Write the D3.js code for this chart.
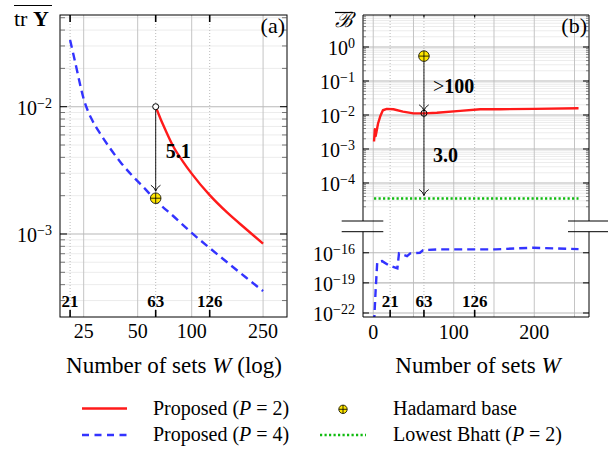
<!DOCTYPE html>
<html><head><meta charset="utf-8">
<script src="https://cdn.jsdelivr.net/npm/d3@7"></script>
<style>
body{margin:0;background:#fff}
svg{display:block}
text{font-family:"Liberation Serif",serif;fill:#000}
</style>
</head><body><svg id="c" width="608" height="453"></svg>
<script>
// ---------------- data ----------------
const wA_P2 = [63, 65, 67, 69, 71, 79, 89, 100, 126, 158, 200, 250];
const trY_P2 = [0.0100, 0.00895, 0.00805, 0.00731, 0.00668, 0.00487, 0.00374, 0.00298, 0.00202, 0.00147, 0.00110, 0.00084];
const wA_P4 = [21, 22, 23, 24, 25, 26.5, 28, 31, 35, 40, 46, 55, 63, 80, 100, 126, 160, 200, 250];
const trY_P4 = [0.0334, 0.0251, 0.0190, 0.0145, 0.0115, 0.00912, 0.00776, 0.00610, 0.00473, 0.00368, 0.00293, 0.00226, 0.00184, 0.00136, 0.00102, 0.000776, 0.000589, 0.000457, 0.000356];
const hadamardW = 63;
const hadamardTrY = 0.00191;
const hadamardB = 0.54;
const wB_P2 = [1, 2, 3, 4, 6, 9, 12, 17, 25, 37, 50, 63, 79, 108, 133, 158, 200, 255];
const bhatt_P2 = [0.00166, 0.0038, 0.0024, 0.00316, 0.00562, 0.00955, 0.0138, 0.0151, 0.0148, 0.0126, 0.0112, 0.0112, 0.0117, 0.0132, 0.0148, 0.0148, 0.0151, 0.0158];
const wB_P4 = [1, 3, 5, 11, 19, 30, 32, 42, 46, 58, 62, 81, 102, 152, 178, 199, 255];
const bhatt_P4 = [1e-23, 1.86e-20, 1.26e-17, 1.48e-17, 5.9e-18, 2.75e-18, 8.7e-17, 4.7e-17, 8.7e-17, 1.0e-16, 1.86e-16, 2.19e-16, 2.19e-16, 2.19e-16, 2.75e-16, 3.16e-16, 2.34e-16];
const lowestW = [1, 255];
const lowestBhatt = [3.5e-5, 3.5e-5];
const ratioA = "5.1", ratioB1 = "100", ratioB2 = "3.0";
const xTicksA = [25, 50, 100, 250];
const xTicksB = [0, 100, 200];
const gridB = [0, 50, 100, 150, 200, 250];
const extraTicks = [21, 63, 126];
const yExpA = [-2, -3];
const yExpBUp = [0, -1, -2, -3, -4];
const yExpBLow = [-16, -19, -22];
const legendItems = ["Proposed (P = 2)", "Proposed (P = 4)", "Hadamard base", "Lowest Bhatt (P = 2)"];

// ---------------- setup ----------------
const svg = d3.select("#c");
const RED = "#ff1a1a", BLUE = "#3333ff", GREEN = "#11bb11", YEL = "#ffe600";
const GRIDMAJ = "#c4c4c4", GRIDMIN = "#ececec";

// panel a geometry
const A = {l: 60, r: 287, t: 15, b: 317};
const xA = d3.scaleLog().domain([18.45, 339.8]).range([A.l, A.r]);
const yA = d3.scaleLog().domain([0.05253, 2.228e-4]).range([A.t, A.b]);
// panel b geometry
const B = {l: 363, r: 589, t: 15, b: 317, brk1: 221, brk2: 231.7};
const xB = d3.scaleLinear().domain([-12.7, 268]).range([B.l, B.r]);
const yB1 = d3.scaleLog().domain([8.74, Math.pow(10, -5.265)]).range([B.t, 226]);
const yB2 = d3.scaleLog().domain([Math.pow(10, -13.33), Math.pow(10, -22.4)]).range([226, B.b]);

const defs = svg.append("defs");
defs.append("clipPath").attr("id", "clipA").append("rect")
  .attr("x", A.l).attr("y", A.t).attr("width", A.r - A.l).attr("height", A.b - A.t);
defs.append("clipPath").attr("id", "clipB1").append("rect")
  .attr("x", B.l).attr("y", B.t).attr("width", B.r - B.l).attr("height", B.brk1 - B.t);
defs.append("clipPath").attr("id", "clipB2").append("rect")
  .attr("x", B.l).attr("y", B.brk2).attr("width", B.r - B.l).attr("height", B.b - B.brk2);

function minorVals(lo, hi) {
  const out = [];
  for (let e = lo; e <= hi; e++) for (let m = 2; m <= 9; m++) out.push(m * Math.pow(10, e));
  return out;
}
function hline(g, x1, x2, y, col, w, dash) {
  const l = g.append("line").attr("x1", x1).attr("x2", x2).attr("y1", y).attr("y2", y)
    .attr("stroke", col).attr("stroke-width", w);
  if (dash) l.attr("stroke-dasharray", dash);
  return l;
}
function vline(g, x, y1, y2, col, w, dash) {
  const l = g.append("line").attr("x1", x).attr("x2", x).attr("y1", y1).attr("y2", y2)
    .attr("stroke", col).attr("stroke-width", w);
  if (dash) l.attr("stroke-dasharray", dash);
  return l;
}
function hadamard(g, x, y, r) {
  g.append("circle").attr("cx", x).attr("cy", y).attr("r", r).attr("fill", YEL)
    .attr("stroke", "#000").attr("stroke-width", 0.8);
  hline(g, x - r, x + r, y, "#000", 0.8);
  vline(g, x, y - r, y + r, "#000", 0.8);
}
function arrowDown(g, x, y) {
  g.append("path").attr("d", `M${x - 4.8},${y - 6} Q${x - 1},${y - 3.8} ${x},${y} Q${x + 1},${y - 3.8} ${x + 4.8},${y - 6}`)
    .attr("fill", "none").attr("stroke", "#000").attr("stroke-width", 0.9);
}
function powLabel(g, xr, y, exp) {
  const t = g.append("text").attr("x", xr).attr("y", y + 8).attr("text-anchor", "end").attr("font-size", 20);
  t.append("tspan").text("10");
  t.append("tspan").attr("dy", -7).attr("font-size", 14).text(exp === 0 ? "0" : "\u2212" + Math.abs(exp));
}

// ================= PANEL A =================
const gA = svg.append("g");
minorVals(-4, -2).filter(v => v < 0.0525 && v > 2.23e-4).forEach(v => hline(gA, A.l, A.r, yA(v), GRIDMIN, 1));
xTicksA.forEach(v => vline(gA, xA(v), A.t, A.b, GRIDMAJ, 1));
extraTicks.forEach(v => vline(gA, xA(v), A.t, A.b, "#a8a8a8", 0.8, "1,2"));
yExpA.forEach(e => hline(gA, A.l, A.r, yA(Math.pow(10, e)), "#b8b8b8", 1.1));

const lineA = d3.line().x(d => xA(d[0])).y(d => yA(d[1])).curve(d3.curveMonotoneX);
const gAd = gA.append("g").attr("clip-path", "url(#clipA)");
gAd.append("path").attr("d", lineA(d3.zip(wA_P4, trY_P4))).attr("fill", "none")
  .attr("stroke", BLUE).attr("stroke-width", 2.4).attr("stroke-dasharray", "8,5");
gAd.append("path").attr("d", lineA(d3.zip(wA_P2, trY_P2))).attr("fill", "none")
  .attr("stroke", RED).attr("stroke-width", 2.4);

gA.append("rect").attr("x", A.l).attr("y", A.t).attr("width", A.r - A.l).attr("height", A.b - A.t)
  .attr("fill", "none").attr("stroke", "#000").attr("stroke-width", 1);
minorVals(-4, -2).filter(v => v < 0.0525 && v > 2.23e-4).forEach(v => {
  hline(gA, A.l, A.l + 5, yA(v), "#555", 0.8);
  hline(gA, A.r - 5, A.r, yA(v), "#555", 0.8);
});
yExpA.forEach(e => {
  hline(gA, A.l, A.l + 7, yA(Math.pow(10, e)), "#000", 1);
  hline(gA, A.r - 7, A.r, yA(Math.pow(10, e)), "#000", 1);
  powLabel(gA, 52, yA(Math.pow(10, e)), e);
});
extraTicks.forEach(v => {
  vline(gA, xA(v), A.b - 7, A.b, "#000", 1.6);
  vline(gA, xA(v), A.t, A.t + 7, "#000", 1.6);
  gA.append("text").attr("x", xA(v)).attr("y", 306.5).attr("text-anchor", "middle")
    .attr("font-size", 17).attr("font-weight", "bold").text(v);
});
xTicksA.forEach(v => gA.append("text").attr("x", xA(v)).attr("y", 338).attr("text-anchor", "middle")
  .attr("font-size", 20).text(v));
{
  const t = gA.append("text").attr("x", (A.l + A.r) / 2 + 0.5).attr("y", 373).attr("text-anchor", "middle").attr("font-size", 23);
  t.append("tspan").text("Number of sets ");
  t.append("tspan").attr("font-style", "italic").text("W");
  t.append("tspan").text(" (log)");
}
{
  const t = gA.append("text").attr("x", 14).attr("y", 25.5).attr("font-size", 22);
  t.append("tspan").text("tr ");
  t.append("tspan").attr("font-weight", "bold").text("Y");
  hline(gA, 14, 52, 5.5, "#000", 1.2);
}
gA.append("text").attr("x", 285).attr("y", 33).attr("text-anchor", "end").attr("font-size", 22).text("(a)");

{
  const x = xA(hadamardW);
  const y0 = yA(trY_P2[0]);
  const yH = yA(hadamardTrY);
  vline(gA, x, y0, yH - 7, "#000", 0.9);
  arrowDown(gA, x, yH - 7);
  gA.append("circle").attr("cx", x).attr("cy", y0).attr("r", 3).attr("fill", "#fff")
    .attr("stroke", "#000").attr("stroke-width", 1);
  hadamard(gA, x, yH, 5.3);
  gA.append("text").attr("x", x + 10).attr("y", 158.3).attr("font-size", 20).attr("font-weight", "bold").text(ratioA);
}

// ================= PANEL B =================
const gB = svg.append("g");
minorVals(-5, 0).filter(v => yB1(v) > B.t && yB1(v) < 213).forEach(v => hline(gB, B.l, B.r, yB1(v), GRIDMIN, 1));
gridB.forEach(v => vline(gB, xB(v), B.t, B.b, GRIDMAJ, 1));
extraTicks.forEach(v => vline(gB, xB(v), B.t, B.b, "#a8a8a8", 0.8, "1,2"));
yExpBUp.forEach(e => hline(gB, B.l, B.r, yB1(Math.pow(10, e)), "#b8b8b8", 1.1));
yExpBLow.forEach(e => hline(gB, B.l, B.r, yB2(Math.pow(10, e)), "#b8b8b8", 1.1));

const lineB1 = d3.line().x(d => xB(d[0])).y(d => yB1(d[1]));
const lineB2 = d3.line().x(d => xB(d[0])).y(d => yB2(d[1]));
const gB1 = gB.append("g").attr("clip-path", "url(#clipB1)");
gB1.append("path").attr("d", lineB1(d3.zip(lowestW, lowestBhatt))).attr("fill", "none")
  .attr("stroke", GREEN).attr("stroke-width", 2.3).attr("stroke-dasharray", "2.2,2.3");
gB1.append("path").attr("d", lineB1(d3.zip(wB_P2, bhatt_P2))).attr("fill", "none")
  .attr("stroke", RED).attr("stroke-width", 2.4).attr("stroke-linejoin", "round");
const gB2 = gB.append("g").attr("clip-path", "url(#clipB2)");
gB2.append("path").attr("d", lineB2(d3.zip(wB_P4, bhatt_P4))).attr("fill", "none")
  .attr("stroke", BLUE).attr("stroke-width", 2.4).attr("stroke-dasharray", "8,5");

hline(gB, B.l, B.r, B.t, "#000", 1);
hline(gB, B.l, B.r, B.b, "#000", 1);
vline(gB, B.l, B.t, B.brk1, "#000", 1);
vline(gB, B.r, B.t, B.brk1, "#000", 1);
vline(gB, B.l, B.brk2, B.b, "#000", 1);
vline(gB, B.r, B.brk2, B.b, "#000", 1);
[B.brk1, B.brk2].forEach(y => {
  hline(gB, 341.7, 383.3, y, "#000", 1);
  hline(gB, 568, 608, y, "#000", 1);
});

minorVals(-5, 0).filter(v => yB1(v) > B.t && yB1(v) < 213).forEach(v => {
  hline(gB, B.l, B.l + 3, yB1(v), "#555", 0.7);
  hline(gB, B.r - 3, B.r, yB1(v), "#555", 0.7);
});
yExpBUp.forEach(e => {
  const y = yB1(Math.pow(10, e));
  hline(gB, B.l, B.l + 6, y, "#000", 1);
  hline(gB, B.r - 6, B.r, y, "#000", 1);
  powLabel(gB, 355, y, e);
});
yExpBLow.forEach(e => {
  const y = yB2(Math.pow(10, e));
  hline(gB, B.l, B.l + 6, y, "#000", 1);
  hline(gB, B.r - 6, B.r, y, "#000", 1);
  powLabel(gB, 355, y, e);
});
extraTicks.forEach(v => {
  vline(gB, xB(v), B.b - 7, B.b, "#000", 1.6);
  vline(gB, xB(v), B.t, B.t + 2.5, "#000", 1.2);
  gB.append("text").attr("x", xB(v)).attr("y", 306.5).attr("text-anchor", "middle")
    .attr("font-size", 17).attr("font-weight", "bold").text(v);
});
xTicksB.forEach(v => gB.append("text").attr("x", xB(v)).attr("y", 339).attr("text-anchor", "middle")
  .attr("font-size", 20).text(v));
{
  const t = gB.append("text").attr("x", 478).attr("y", 373).attr("text-anchor", "middle").attr("font-size", 23);
  t.append("tspan").text("Number of sets ");
  t.append("tspan").attr("font-style", "italic").text("W");
}
gB.append("text").attr("x", 335).attr("y", 27).attr("font-size", 21)
  .attr("font-family", "DejaVu Serif").attr("font-style", "italic").text("\u212C");
hline(gB, 335, 353, 12.5, "#000", 1.2);
gB.append("text").attr("x", 587).attr("y", 33).attr("text-anchor", "end").attr("font-size", 22).text("(b)");

{
  const x = xB(hadamardW);
  const yH = yB1(hadamardB);
  const idx = wB_P2.indexOf(hadamardW);
  const yR = yB1(bhatt_P2[idx]);
  const yG = yB1(lowestBhatt[0]);
  vline(gB, x, yH, yG - 3, "#000", 0.9);
  arrowDown(gB, x, yR - 2.5);
  arrowDown(gB, x, yG - 3);
  gB.append("circle").attr("cx", x).attr("cy", yR).attr("r", 3).attr("fill", "none")
    .attr("stroke", "#000").attr("stroke-width", 1);
  hadamard(gB, x, yH, 5.3);
  const t = gB.append("text").attr("x", 433).attr("y", 93).attr("font-size", 20);
  t.append("tspan").text(">");
  t.append("tspan").attr("font-weight", "bold").text(ratioB1);
  gB.append("text").attr("x", 433).attr("y", 162).attr("font-size", 20).attr("font-weight", "bold").text(ratioB2);
}

// ================= LEGEND =================
const gL = svg.append("g");
function legText(x, y, s) {
  const t = gL.append("text").attr("x", x).attr("y", y).attr("font-size", 20);
  const m = s.match(/^(.*\()P( = .*)$/);
  if (m) {
    t.append("tspan").text(m[1]);
    t.append("tspan").attr("font-style", "italic").text("P");
    t.append("tspan").text(m[2]);
  } else t.text(s);
}
hline(gL, 82, 127, 408.5, RED, 2.4);
legText(153, 415, legendItems[0]);
hline(gL, 82, 127, 435, BLUE, 2.4, "7,5.5");
legText(153, 441, legendItems[1]);
hadamard(gL, 343, 409.3, 4.2);
legText(393, 415, legendItems[2]);
hline(gL, 320, 366, 435, GREEN, 2.3, "2.2,2.3");
legText(393, 441, legendItems[3]);
</script>
</body></html>
